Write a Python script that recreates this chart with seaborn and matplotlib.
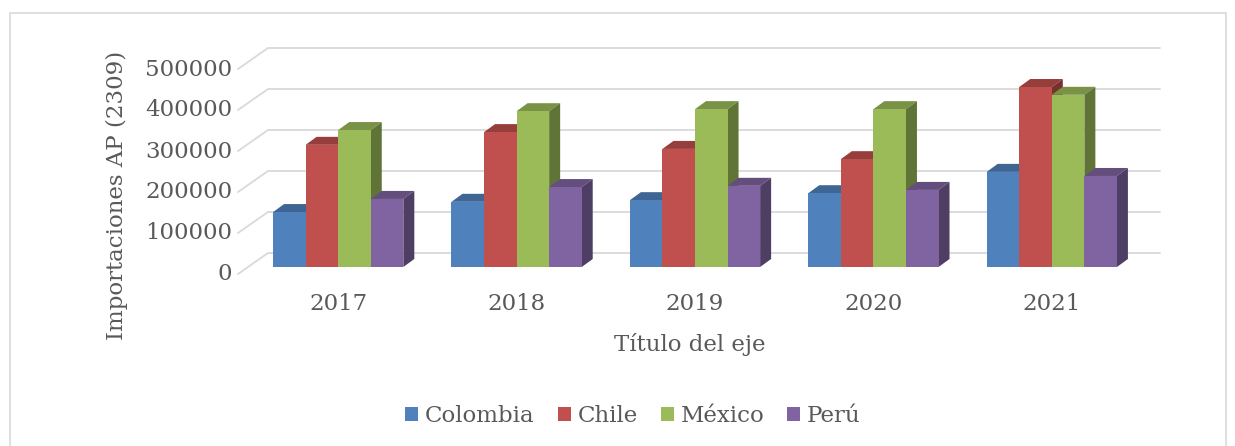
import matplotlib.pyplot as plt
import seaborn as sns
import pandas as pd
from matplotlib.patches import Polygon, Patch, Rectangle
from matplotlib.transforms import ScaledTranslation
from matplotlib.colors import to_rgb

# Importaciones AP (2309) por país
years = ["2017", "2018", "2019", "2020", "2021"]
countries = ["Colombia", "Chile", "México", "Perú"]
colombia = [134000, 159000, 163000, 180000, 232000]
chile = [298000, 329000, 288000, 263000, 439000]
mexico = [334000, 380000, 385000, 385000, 420000]
peru = [166000, 195000, 198000, 188000, 222000]
colors = ["#4F81BD", "#C0504D", "#9BBB59", "#8064A2"]
yticks = [0, 100000, 200000, 300000, 400000, 500000]

df = pd.DataFrame({
    "Año": years * 4,
    "País": sum([[c] * len(years) for c in countries], []),
    "Valor": colombia + chile + mexico + peru,
})

sns.set_style("white")
plt.rcParams["font.family"] = ["DejaVu Serif"]
txt = "#595959"
fs = 16.5

W, H = 1235, 446
fig = plt.figure(figsize=(W / 100, H / 100), dpi=100)
# front plane of the bars in pixels
L, R, B, T = 249, 1141, 267, 62
ax = fig.add_axes([L / W, 1 - B / H, (R - L) / W, (B - T) / H])

sns.barplot(data=df, x="Año", y="Valor", hue="País", palette=colors,
            width=0.73, gap=0, saturation=1, legend=False, ax=ax)
ax.set_xlim(-0.5, 4.5)
ax.set_ylim(0, 500000)

# pixel -> data conversions
px_x = 5 / (R - L)
px_y = 500000 / (B - T)


def shade(c, f):
    r, g, b = to_rgb(c)
    return (r * f, g * f, b * f)


# fake 3D depth on every bar
ddx, ddy = 11 * px_x, 8 * px_y
for k, cont in enumerate(ax.containers):
    for bar in cont:
        bar.set_zorder(3 + 2 * k)
        bar.set_edgecolor("none")
        x0, w, h = bar.get_x(), bar.get_width(), bar.get_height()
        fc = bar.get_facecolor()
        top = Polygon([(x0, h), (x0 + w, h), (x0 + w + ddx, h + ddy), (x0 + ddx, h + ddy)],
                      closed=True, facecolor=shade(fc, 0.78), edgecolor="none",
                      zorder=2 + 2 * k, clip_on=False)
        side = Polygon([(x0 + w, 0), (x0 + w + ddx, ddy), (x0 + w + ddx, h + ddy), (x0 + w, h)],
                       closed=True, facecolor=shade(fc, 0.62), edgecolor="none",
                       zorder=2 + 2 * k, clip_on=False)
        ax.add_patch(top)
        ax.add_patch(side)

# back wall gridlines with floor diagonal
fx, fy = -11 * px_x, 7 * px_y
bx, by = 19 * px_x, -14 * px_y
for v in yticks:
    ax.plot([-0.5 + fx, -0.5 + bx, 4.5 + bx], [v - fy, v - by, v - by],
            color="#D9D9D9", lw=1.3, zorder=0, clip_on=False)

sns.despine(ax=ax, left=True, bottom=True)
ax.set_yticks(yticks)
ax.set_yticklabels([str(v) for v in yticks])
ax.tick_params(axis="y", length=0, pad=12, labelsize=fs, labelcolor=txt)
ax.tick_params(axis="x", length=0, pad=19, labelsize=fs, labelcolor=txt)
for lab in ax.get_yticklabels():
    lab.set_transform(lab.get_transform() + ScaledTranslation(0, -5 / 100, fig.dpi_scale_trans))
ax.set_xlabel("")
ax.set_ylabel("")
ax.grid(False)

fig.text(117 / W, 1 - 195 / H, "Importaciones AP (2309)", rotation=90,
         ha="center", va="center", fontsize=fs, color=txt)
fig.text(690 / W, 1 - 345 / H, "Título del eje", ha="center", va="center",
         fontsize=fs, color=txt)

handles = [Patch(facecolor=c, edgecolor="none") for c in colors]
fig.legend(handles, countries, loc="center", bbox_to_anchor=(633 / W, 1 - 416 / H),
           ncol=4, frameon=False, fontsize=fs, labelcolor=txt, handlelength=0.57,
           handleheight=0.57, handletextpad=0.3, columnspacing=1.0)

fig.patches.append(Rectangle((10 / W, -0.02), 1216 / W, 1.02 - 13 / H,
                             transform=fig.transFigure, fill=False,
                             edgecolor="#D9D9D9", lw=1.2))

fig.savefig("out.png", dpi=100)
